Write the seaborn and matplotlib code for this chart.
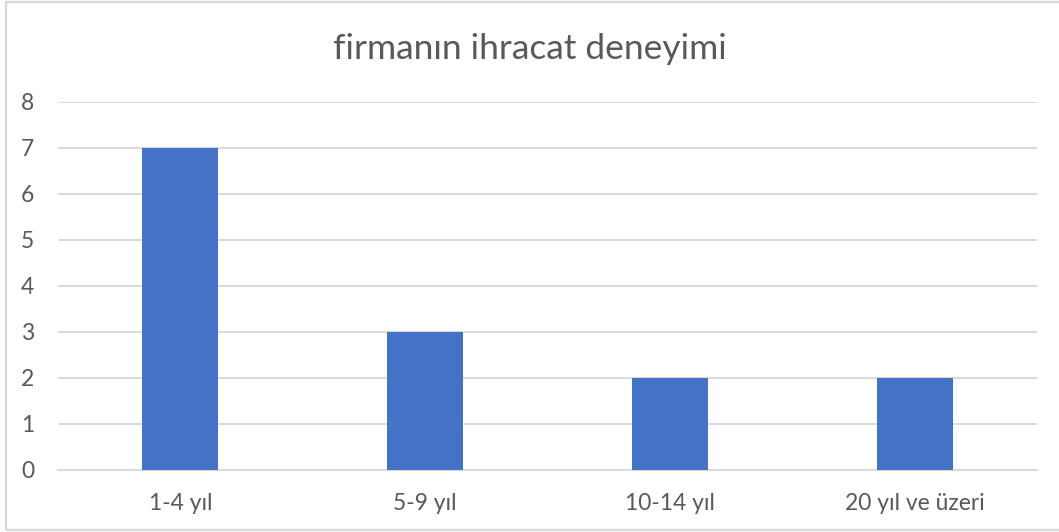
import pandas as pd
import matplotlib.pyplot as plt
import seaborn as sns
from matplotlib.patches import Rectangle

categories = ["1-4 yıl", "5-9 yıl", "10-14 yıl", "20 yıl ve üzeri"]
counts = [7, 3, 2, 2]
title = "firmanın ihracat deneyimi"

df = pd.DataFrame({"kategori": categories, "sayi": counts})

sns.set_style("white")
plt.rcParams["font.family"] = ["Lato", "DejaVu Sans"]

fig = plt.figure(figsize=(10.59, 5.32), dpi=100)
ax = fig.add_axes([58 / 1059, 1 - 469.5 / 532, 979 / 1059, 368 / 532])

sns.barplot(data=df, x="kategori", y="sayi", color="#4472C4", width=0.31,
            saturation=1, linewidth=0, ax=ax, zorder=3)

ax.set_ylim(0, 8)
ax.set_yticks(range(0, 9))
ax.set_xlim(-0.5, 3.5)
ax.grid(axis="y", color="#D9D9D9", linewidth=1.4, zorder=0)
for s in ["top", "right", "left"]:
    ax.spines[s].set_visible(False)
ax.spines["bottom"].set_color("#D9D9D9")
ax.spines["bottom"].set_linewidth(1.4)
ax.tick_params(axis="both", length=0, labelsize=16.5, colors="#595959")
ax.tick_params(axis="y", pad=17)
ax.tick_params(axis="x", pad=17)
ax.set_xlabel("")
ax.set_ylabel("")

fig.text(0.5, 1 - 49 / 532, title, ha="center", va="center",
         fontsize=25.5, color="#595959")

# chart frame
fig.patches.append(Rectangle((6 / 1059, 2 / 532), 1.2, 528 / 532,
                             transform=fig.transFigure, fill=False,
                             edgecolor="#D9D9D9", linewidth=1.6))

fig.savefig("out.png", dpi=100)
